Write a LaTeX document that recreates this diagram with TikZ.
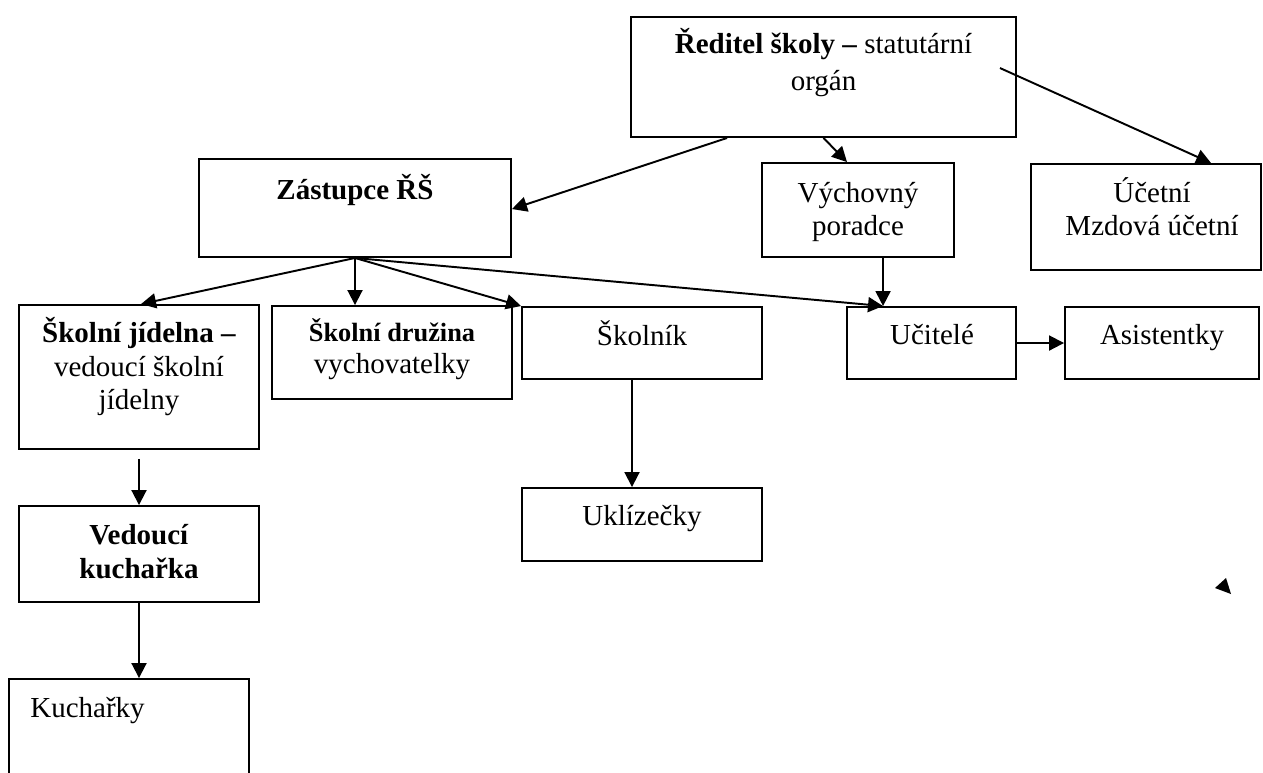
\documentclass[tikz,border=0pt]{standalone}
\usepackage{fontspec}
\setmainfont{Liberation Serif}
\usetikzlibrary{arrows.meta,fit,calc}
\begin{document}
\begin{tikzpicture}[x=0.02cm,y=-0.02cm,
  box/.style={draw, line width=1.1pt, inner sep=0pt, rectangle},
  conn/.style={line width=1.1pt, -{Triangle[length=0.3cm,width=0.3cm]}},
  txt/.style={inner sep=0pt, anchor=base, font=\fontsize{16.5}{20}\selectfont},
  txts/.style={inner sep=0pt, anchor=base, font=\fontsize{15}{18}\selectfont\bfseries}]
\useasboundingbox (0,0) rectangle (1263,772);
% boxes
\node[box, fit={(631,17) (1016,137)}] (red) {};
\node[box, fit={(199,159) (511,257)}] (zas) {};
\node[box, fit={(762,163) (954,257)}] (vych) {};
\node[box, fit={(1031,164) (1261,270)}] (uct) {};
\node[box, fit={(19,305) (259,449)}] (jid) {};
\node[box, fit={(272,306) (512,399)}] (dru) {};
\node[box, fit={(522,307) (762,379)}] (skol) {};
\node[box, fit={(847,307) (1016,379)}] (uci) {};
\node[box, fit={(1065,307) (1259,379)}] (asi) {};
\node[box, fit={(522,488) (762,561)}] (ukl) {};
\node[box, fit={(19,506) (259,602)}] (ved) {};
\node[box, fit={(9,679) (249,800)}] (kuc) {};
% texts
\node[txt] (t1a) at (823.5,53) {\textbf{Ředitel školy –} statutární};
\node[txt] (t1b) at (823.5,90) {orgán};
\node[txt] (t2) at (355,199) {\textbf{Zástupce ŘŠ}};
\node[txt] (t3a) at (858,202) {Výchovný};
\node[txt] (t3b) at (858,235) {poradce};
\node[txt] (t4a) at (1152,202) {Účetní};
\node[txt] (t4b) at (1152,235) {Mzdová účetní};
\node[txt] (t5a) at (139,342) {\textbf{Školní jídelna –}};
\node[txt] (t5b) at (139,376) {vedoucí školní};
\node[txt] (t5c) at (139,409) {jídelny};
\node[txts] (t6a) at (392,341) {Školní družina};
\node[txt] (t6b) at (392,373) {vychovatelky};
\node[txt] (t7) at (642,345) {Školník};
\node[txt] (t8) at (932,344) {Učitelé};
\node[txt] (t9) at (1162,344) {Asistentky};
\node[txt] (t10) at (642,525) {Uklízečky};
\node[txt] (t11a) at (139,544) {\textbf{Vedoucí}};
\node[txt] (t11b) at (139,578) {\textbf{kuchařka}};
\node[txt, anchor=base west] (t12) at (30,717) {Kuchařky};
% connectors
\draw[conn] ($(red.south west)+(97,0)$) -- ($(zas.north east)+(0,51)$);
\draw[conn] (red.south) -- ($(vych.north west)+(86,0)$);
\draw[conn] ($(red.north east)+(-17,52)$) -- ($(uct.north west)+(181,0)$);
\draw[conn] (zas.south) -- ($(jid.north west)+(123,0)$);
\draw[conn] (zas.south) -- (zas.south |- dru.north);
\draw[conn] (zas.south) -- (skol.north west);
\draw[conn] (zas.south) -- ($(uci.north west)+(37,0)$);
\draw[conn] ($(vych.south west)+(122,0)$) -- ($(uci.north west)+(37,0)$);
\draw[conn] (uci.east) -- (asi.west);
\draw[conn] ($(skol.south)+(-10,0)$) -- ($(ukl.north)+(-10,0)$);
\draw[conn, shorten <=0.18cm] (jid.south) -- (ved.north);
\draw[conn] (ved.south) -- (ved.south |- kuc.north);
% stray arrowhead
\fill (1215,588) -- (1226,578) -- (1231,594) -- cycle;
\end{tikzpicture}
\end{document}
